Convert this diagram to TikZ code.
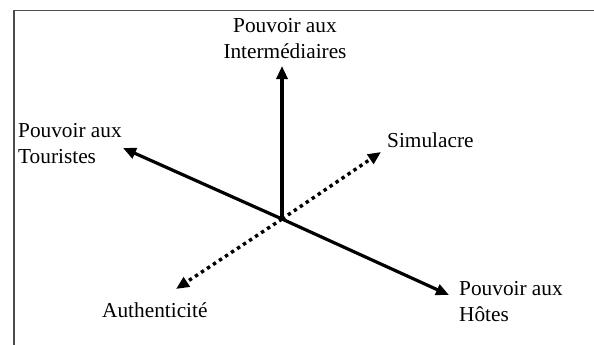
\documentclass[tikz,border=0pt]{standalone}
\usepackage{fontspec}
\setmainfont{Liberation Serif}
\usetikzlibrary{arrows.meta}
\begin{document}
\begin{tikzpicture}[x=1bp,y=-1bp,
  lbl/.style={inner sep=0pt,font=\fontsize{21.3bp}{25.5bp}\selectfont},
  axis/.style={line width=3.2bp,-{Triangle[length=13bp,width=11bp]}},
  dotaxis/.style={line width=3.4bp,dash pattern=on 3.4bp off 3.8bp,-{Triangle[length=13bp,width=11bp]}},
  frame/.style={line width=1.6bp,draw={black!70}}]
\useasboundingbox (0,0) rectangle (594,344);
\fill[white] (0,0) rectangle (594,344);
\draw[frame] (14,345) -- (14,10.5) -- (595,10.5);
\coordinate (O) at (282,219);
\coordinate (up) at (282,66);
\coordinate (tour) at (123,148);
\coordinate (hot) at (449,295);
\coordinate (sim) at (381,152);
\coordinate (auth) at (176,289);
\draw[dotaxis] (O) -- (sim);
\draw[dotaxis] (O) -- (auth);
\draw[axis] (O) -- (up);
\draw[axis] (O) -- (tour);
\draw[axis] (O) -- (hot);
\node[lbl,anchor=base,align=center] (tint) at (285,58) {Pouvoir aux\\Intermédiaires};
\node[lbl,anchor=base west,align=left] (ttour) at (18,163) {Pouvoir aux\\Touristes};
\node[lbl,anchor=base west] (tsim) at (387,147) {Simulacre};
\node[lbl,anchor=base west] (tauth) at (102,317) {Authenticité};
\node[lbl,anchor=base west,align=left] (thot) at (459,321) {Pouvoir aux\\Hôtes};
\end{tikzpicture}
\end{document}
